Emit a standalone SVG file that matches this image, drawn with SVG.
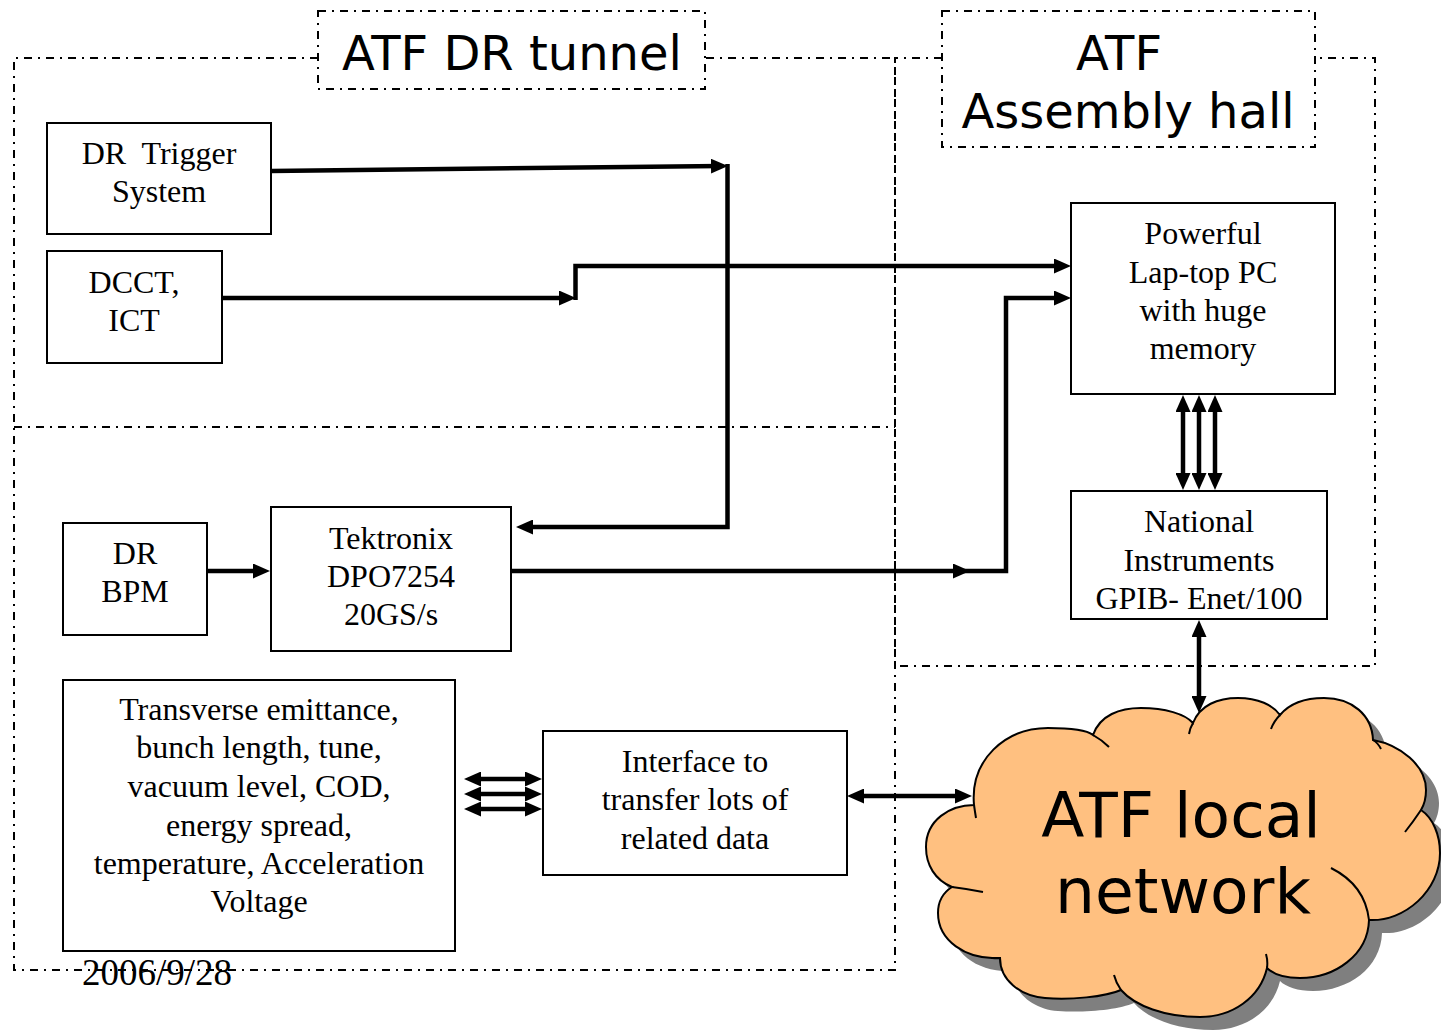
<svg xmlns="http://www.w3.org/2000/svg" width="1441" height="1030" viewBox="0 0 1441 1030">
<style>
.dd{fill:none;stroke:#000;stroke-width:2;stroke-dasharray:8 6 2 6}
.box{fill:#fff;stroke:#000;stroke-width:2}
.t{font-family:"Liberation Serif","Times New Roman",serif;font-size:32px;fill:#000;text-anchor:middle}
.s{font-family:"DejaVu Sans","Liberation Sans",sans-serif;font-size:48px;fill:#000;text-anchor:middle}
.c{fill:none;stroke:#000;stroke-width:4.5}
.tail{fill:none;stroke:#000;stroke-width:2}
</style>
<defs>
<marker id="ah" viewBox="0 0 17 15" refX="10" refY="7.5" markerWidth="17" markerHeight="15" markerUnits="userSpaceOnUse" orient="auto-start-reverse">
<path d="M0,0 L17,7.5 L0,15 z" fill="#000"/>
</marker>
<path id="cloudPath" d="M974,805 C970,760 1005,728 1048,728 C1072,728 1088,731 1093,735 C1100,715 1120,708 1141,708 C1165,708 1185,714 1193,723 C1200,705 1218,698 1238,698 C1258,698 1273,705 1280,715 C1290,703 1305,698 1324,698 C1352,698 1372,715 1373,740 C1400,745 1426,765 1426,790 C1426,798 1424,805 1421,810 C1433,818 1440,835 1440,853 C1440,890 1405,922 1369,920 C1368,955 1335,978 1300,978 C1285,978 1273,974 1267,968 C1260,998 1232,1017 1200,1017 C1165,1017 1135,1006 1121,990 C1105,997 1070,1000 1045,998 C1020,996 1000,980 1000,958 C965,960 938,940 938,913 C938,900 944,892 952,887 C935,880 926,865 926,847 C926,820 950,805 974,805 Z"/>
</defs>

<g id="regions">
<path class="dd" d="M318,58 H14 V970 H895 V58 H706"/>
<path class="dd" d="M14,427 H895"/>
<path class="dd" d="M942,58 H895 V666 H1375 V58 H1315"/>
</g>

<g id="title-tunnel">
<rect class="dd" x="318" y="11" width="387" height="78"/>
<text class="s" x="512" y="70">ATF DR tunnel</text>
</g>

<g id="title-hall">
<rect class="dd" x="942" y="11" width="373" height="136"/>
<text class="s" x="1119" y="70">ATF</text>
<text class="s" x="1128" y="128">Assembly hall</text>
</g>

<g id="trigger">
<rect class="box" x="47" y="123" width="224" height="111"/>
<text class="t" x="159" y="164" xml:space="preserve">DR  Trigger</text>
<text class="t" x="159" y="202">System</text>
</g>

<g id="dcct">
<rect class="box" x="47" y="251" width="175" height="112"/>
<text class="t" x="134" y="293">DCCT,</text>
<text class="t" x="134" y="331">ICT</text>
</g>

<g id="laptop">
<rect class="box" x="1071" y="203" width="264" height="191"/>
<text class="t" x="1203" y="244">Powerful</text>
<text class="t" x="1203" y="283">Lap-top PC</text>
<text class="t" x="1203" y="321">with huge</text>
<text class="t" x="1203" y="359">memory</text>
</g>

<g id="ni">
<rect class="box" x="1071" y="491" width="256" height="128"/>
<text class="t" x="1199" y="532">National</text>
<text class="t" x="1199" y="571">Instruments</text>
<text class="t" x="1199" y="609">GPIB- Enet/100</text>
</g>

<g id="bpm">
<rect class="box" x="63" y="523" width="144" height="112"/>
<text class="t" x="135" y="564">DR</text>
<text class="t" x="135" y="602">BPM</text>
</g>

<g id="tektronix">
<rect class="box" x="271" y="507" width="240" height="144"/>
<text class="t" x="391" y="549">Tektronix</text>
<text class="t" x="391" y="587">DPO7254</text>
<text class="t" x="391" y="625">20GS/s</text>
</g>

<g id="params">
<rect class="box" x="63" y="680" width="392" height="271"/>
<text class="t" x="259" y="720">Transverse emittance,</text>
<text class="t" x="259" y="758">bunch length, tune,</text>
<text class="t" x="259" y="797">vacuum level, COD,</text>
<text class="t" x="259" y="836">energy spread,</text>
<text class="t" x="259" y="874">temperature, Acceleration</text>
<text class="t" x="259" y="912">Voltage</text>
</g>

<g id="interface">
<rect class="box" x="543" y="731" width="304" height="144"/>
<text class="t" x="695" y="772">Interface to</text>
<text class="t" x="695" y="810">transfer lots of</text>
<text class="t" x="695" y="849">related data</text>
</g>

<g id="cloud">
<use href="#cloudPath" transform="translate(13,13)" fill="#7f7f7f"/>
<use href="#cloudPath" fill="#FFC080" stroke="#000" stroke-width="2"/>
<path class="tail" d="M974,805 Q975,812 976,818 M1093,735 Q1102,740 1109,747 M1193,723 Q1190,728 1189,734 M1280,715 Q1274,721 1271,729 M1373,740 Q1378,743 1381,749 M1421,810 Q1413,822 1405,832 M1369,920 Q1365,885 1331,868 M1267,968 Q1268,961 1266,954 M1121,990 Q1116,983 1114,975 M1000,958 Q996,958 991,958 M952,887 Q968,889 983,892"/>
<text class="s" style="font-size:63px" x="1181" y="837">ATF local</text>
<text class="s" style="font-size:63px" x="1183" y="913">network</text>
</g>

<g id="connectors">
<path class="c" d="M271,171 L721,166" marker-end="url(#ah)"/>
<path class="c" d="M727.5,164 V527 H523" marker-end="url(#ah)"/>
<path class="c" d="M222,298 H569" marker-end="url(#ah)"/>
<path class="c" d="M575.5,300 V266 H1064" marker-end="url(#ah)"/>
<path class="c" d="M511,571 H963" marker-end="url(#ah)"/>
<path class="c" d="M963,571 H1006 V298 H1064" marker-end="url(#ah)"/>
<path class="c" d="M207,571 H263" marker-end="url(#ah)"/>
<path class="c" d="M1183,402 V483" marker-start="url(#ah)" marker-end="url(#ah)"/>
<path class="c" d="M1199,402 V483" marker-start="url(#ah)" marker-end="url(#ah)"/>
<path class="c" d="M1215,402 V483" marker-start="url(#ah)" marker-end="url(#ah)"/>
<path class="c" d="M471,779 H535" marker-start="url(#ah)" marker-end="url(#ah)"/>
<path class="c" d="M471,794 H535" marker-start="url(#ah)" marker-end="url(#ah)"/>
<path class="c" d="M471,809 H535" marker-start="url(#ah)" marker-end="url(#ah)"/>
<path class="c" d="M854,796 H965" marker-start="url(#ah)" marker-end="url(#ah)"/>
<path class="c" d="M1199,627 V706" marker-start="url(#ah)" marker-end="url(#ah)"/>
</g>

<text class="t" style="font-size:37px;text-anchor:start" x="82" y="985">2006/9/28</text>
</svg>
